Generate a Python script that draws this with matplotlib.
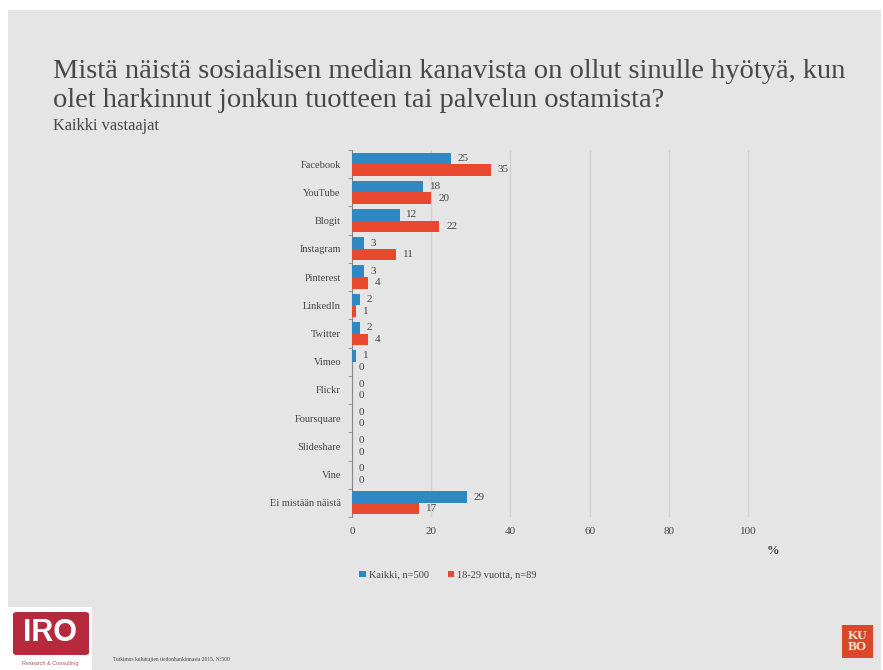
import numpy as np
import matplotlib.pyplot as plt
from matplotlib.patches import Rectangle, FancyBboxPatch
from matplotlib.ticker import FixedLocator

categories = ["Facebook", "YouTube", "Blogit", "Instagram", "Pinterest", "LinkedIn",
              "Twitter", "Vimeo", "Flickr", "Foursquare", "Slideshare", "Vine",
              "Ei mistään näistä"]
kaikki = [25, 18, 12, 3, 3, 2, 2, 1, 0, 0, 0, 0, 29]
nuoret = [35, 20, 22, 11, 4, 1, 4, 0, 0, 0, 0, 0, 17]
series_labels = ["Kaikki, n=500", "18-29 vuotta, n=89"]
x_ticks = [0, 20, 40, 60, 80, 100]

title_lines = ["Mistä näistä sosiaalisen median kanavista on ollut sinulle hyötyä, kun",
               "olet harkinnut jonkun tuotteen tai palvelun ostamista?"]
subtitle = "Kaikki vastaajat"
footnote = "Tutkimus kuluttajien tiedonhankinnasta 2015, N:500"

plt.rcParams["font.family"] = ["Liberation Serif", "DejaVu Serif"]
bg = "#e5e5e5"
blue, red = "#2f88c2", "#e8482d"
txt = "#444444"

W, H = 883, 670
fig = plt.figure(figsize=(W / 100, H / 100), dpi=100)
fig.patch.set_facecolor("white")
fig.patches.append(Rectangle((8 / W, 0), (W - 10) / W, (H - 10) / H,
                             transform=fig.transFigure, facecolor=bg, edgecolor="none", zorder=-10))

ax = fig.add_axes([352 / W, 1 - 517 / H, 435.6 / W, 367 / H])
ax.set_facecolor("none")
y = np.arange(len(categories))
h = 0.41
ax.barh(y - h / 2, kaikki, height=h, color=blue, label=series_labels[0], zorder=3)
ax.barh(y + h / 2, nuoret, height=h, color=red, label=series_labels[1], zorder=3)

for yi, v in zip(y - h / 2, kaikki):
    ax.annotate(f"{v}", (v, yi), xytext=(5, 0), textcoords="offset points",
                va="center", ha="left", fontsize=8, color=txt)
for yi, v in zip(y + h / 2, nuoret):
    ax.annotate(f"{v}", (v, yi), xytext=(5, 0), textcoords="offset points",
                va="center", ha="left", fontsize=8, color=txt)

ax.set_xlim(0, 110)
ax.set_ylim(len(categories) - 0.5, -0.5)
ax.set_yticks(y)
ax.set_yticklabels(categories, fontsize=7.5, color=txt)
ax.yaxis.set_minor_locator(FixedLocator(np.arange(-0.5, len(categories), 1.0)))
ax.tick_params(axis="y", which="major", length=0, pad=8)
ax.tick_params(axis="y", which="minor", length=3, color="#888888", direction="out")
ax.set_xticks(x_ticks)
ax.set_xticklabels([str(t) for t in x_ticks], fontsize=8, color=txt)
ax.tick_params(axis="x", length=0, pad=7)
ax.grid(axis="x", color="#d2d2d2", linewidth=1.0, zorder=0)
for s in ["top", "right", "bottom"]:
    ax.spines[s].set_visible(False)
ax.spines["left"].set_color("#888888")
ax.spines["left"].set_linewidth(0.8)

fig.text(773 / W, 1 - 551 / H, "%", fontsize=9, fontweight="bold", color=txt, ha="center", va="center")

leg = ax.legend(loc="center left", bbox_to_anchor=(350 / W, 1 - 575 / H), bbox_transform=fig.transFigure,
                ncol=2, frameon=False, fontsize=7.5, handlelength=0.6, handleheight=0.6,
                handletextpad=0.3, columnspacing=1.8)
for t in leg.get_texts():
    t.set_color(txt)

fig.text(53 / W, 1 - 78 / H, title_lines[0], fontsize=20.5, color="#474747", ha="left", va="baseline")
fig.text(53 / W, 1 - 107 / H, title_lines[1], fontsize=20.5, color="#474747", ha="left", va="baseline")
fig.text(53 / W, 1 - 130.5 / H, subtitle, fontsize=11.8, color="#474747", ha="left", va="baseline")
fig.text(113 / W, 1 - 660 / H, footnote, fontsize=4, color=txt, ha="left", va="center")

# IRO logo
fig.patches.append(Rectangle((8 / W, 0), 84 / W, 63 / H, transform=fig.transFigure,
                             facecolor="white", edgecolor="none", zorder=-5))
fig.patches.append(FancyBboxPatch((13 / W, 1 - 655 / H), 76 / W, 43 / H,
                                  boxstyle="round,pad=0,rounding_size=0.004",
                                  transform=fig.transFigure, facecolor="#b52a3c", edgecolor="none"))
fig.text(50 / W, 1 - 633 / H, "IRO", fontsize=22, fontweight="bold", color="white",
         family=["Liberation Sans", "DejaVu Sans"], ha="center", va="center")
fig.text(50 / W, 1 - 663 / H, "Research & Consulting", fontsize=4, color="#b55060",
         family=["Liberation Sans", "DejaVu Sans"], ha="center", va="center")

# KUBO logo
fig.patches.append(Rectangle((842 / W, 1 - 658 / H), 31 / W, 33 / H, transform=fig.transFigure,
                             facecolor="#d9482b", edgecolor="none"))
fig.text(857.5 / W, 1 - 641.5 / H, "KU\nBO", fontsize=9.5, fontweight="bold", color="#fbe9df",
         ha="center", va="center", linespacing=0.85)

fig.savefig("out.png", dpi=100, facecolor=fig.get_facecolor())
